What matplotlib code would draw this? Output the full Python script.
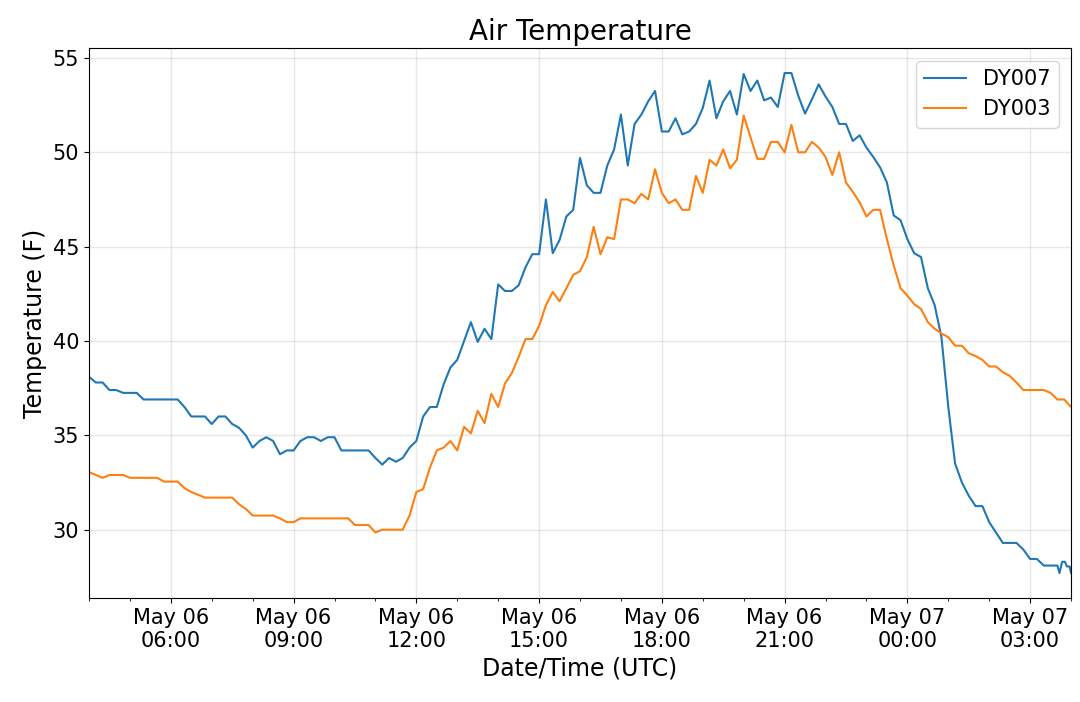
import matplotlib
matplotlib.use("Agg")
import matplotlib.pyplot as plt
import matplotlib.dates as mdates
import numpy as np
import pandas as pd

# ---- data ----
start = "2019-05-06 04:00"
interval_min = 10

dy007_values = [
    38.1, 37.8, 37.8, 37.4, 37.4, 37.25, 37.25, 37.25, 36.9, 36.9,
    36.9, 36.9, 36.9, 36.9, 36.5, 36.0, 36.0, 36.0, 35.6, 36.0,
    36.0, 35.6, 35.4, 35.0, 34.35, 34.7, 34.9, 34.7, 34.0, 34.2,
    34.2, 34.7, 34.9, 34.9, 34.7, 34.9, 34.9, 34.2, 34.2, 34.2,
    34.2, 34.2, 33.8, 33.45, 33.8, 33.6, 33.8, 34.35, 34.7, 36.0,
    36.5, 36.5, 37.7, 38.6, 39.0, 40.0, 41.0, 39.95, 40.65, 40.1,
    43.0, 42.65, 42.65, 42.95, 43.9, 44.6, 44.6, 47.5, 44.65, 45.35,
    46.6, 46.95, 49.7, 48.25, 47.85, 47.85, 49.3, 50.15, 52.0, 49.3,
    51.5, 52.0, 52.7, 53.25, 51.1, 51.1, 51.8, 50.95, 51.1, 51.5,
    52.35, 53.8, 51.8, 52.7, 53.25, 52.0, 54.15, 53.25, 53.8, 52.75,
    52.9, 52.4, 54.2, 54.2, 53.0, 52.05, 52.8, 53.6, 52.95, 52.4,
    51.5, 51.5, 50.6, 50.9, 50.25, 49.75, 49.2, 48.4, 46.65, 46.4,
    45.4, 44.65, 44.45, 42.8, 41.9, 40.2, 36.5, 33.5, 32.5, 31.8,
    31.25, 31.25, 30.4, 29.85, 29.3, 29.3, 29.3, 28.95, 28.45, 28.45,
    28.1, 28.1, 28.1,
]
# DY007 reports more often at the very end (minutes after start)
dy007_tail_minutes = [1423, 1427, 1431, 1434, 1438, 1440]
dy007_tail_values = [27.7, 28.3, 28.3, 28.05, 28.05, 27.7]

dy003_values = [
    33.05, 32.9, 32.75, 32.9, 32.9, 32.9, 32.75, 32.75, 32.75, 32.75,
    32.75, 32.55, 32.55, 32.55, 32.2, 32.0, 31.85, 31.7, 31.7, 31.7,
    31.7, 31.7, 31.35, 31.1, 30.75, 30.75, 30.75, 30.75, 30.6, 30.4,
    30.4, 30.6, 30.6, 30.6, 30.6, 30.6, 30.6, 30.6, 30.6, 30.25,
    30.25, 30.25, 29.85, 30.0, 30.0, 30.0, 30.0, 30.75, 32.0, 32.15,
    33.3, 34.2, 34.35, 34.7, 34.2, 35.45, 35.1, 36.3, 35.65, 37.2,
    36.5, 37.75, 38.3, 39.15, 40.1, 40.1, 40.8, 41.9, 42.6, 42.1,
    42.8, 43.5, 43.7, 44.45, 46.05, 44.6, 45.5, 45.4, 47.5, 47.5,
    47.3, 47.8, 47.5, 49.1, 47.85, 47.3, 47.5, 46.95, 46.95, 48.75,
    47.85, 49.6, 49.3, 50.15, 49.15, 49.6, 51.95, 50.8, 49.65, 49.65,
    50.55, 50.55, 50.0, 51.45, 50.0, 50.0, 50.55, 50.25, 49.75, 48.8,
    50.0, 48.4, 47.9, 47.35, 46.6, 46.95, 46.95, 45.4, 44.0, 42.8,
    42.4, 41.95, 41.7, 41.0, 40.65, 40.4, 40.2, 39.75, 39.75, 39.35,
    39.2, 39.0, 38.65, 38.65, 38.35, 38.15, 37.8, 37.4, 37.4, 37.4,
    37.4, 37.25, 36.9, 36.9, 36.5,
]

series_names = ["DY007", "DY003"]
title = "Air Temperature"
xlabel = "Date/Time (UTC)"
ylabel = "Temperature (F)"

# ---- build time axes ----
t0 = pd.Timestamp(start)
dy007_minutes = [i * interval_min for i in range(len(dy007_values))] + dy007_tail_minutes
dy007_times = t0 + pd.to_timedelta(dy007_minutes, unit="m")
dy007_all = dy007_values + dy007_tail_values
dy003_times = pd.date_range(start, periods=len(dy003_values), freq=f"{interval_min}min")

# ---- plot ----
fig = plt.figure(figsize=(10.8, 7.02), dpi=100)
ax = fig.add_axes([0.0824, 0.148, 0.9093, 0.7836])

ax.plot(dy007_times, dy007_all, color="#1f77b4", lw=1.5, label=series_names[0])
ax.plot(dy003_times, dy003_values, color="#ff7f0e", lw=1.5, label=series_names[1])

ax.set_xlim(min(dy007_times[0], dy003_times[0]), max(dy007_times[-1], dy003_times[-1]))
ax.margins(y=0.05)

ax.xaxis.set_major_locator(mdates.HourLocator(byhour=range(0, 24, 3)))
ax.xaxis.set_minor_locator(mdates.HourLocator())
ax.xaxis.set_major_formatter(mdates.DateFormatter("%b %d\n%H:%M"))
ax.set_yticks([30, 35, 40, 45, 50, 55])

ax.grid(True, which="major", color="#b0b0b0", alpha=0.3, lw=1.0)
ax.tick_params(labelsize=15)

ax.set_title(title, fontsize=20)
ax.set_xlabel(xlabel, fontsize=17)
ax.set_ylabel(ylabel, fontsize=17)
ax.legend(loc="upper right", fontsize=15, borderaxespad=0.6)

fig.savefig("out.png", dpi=100)
